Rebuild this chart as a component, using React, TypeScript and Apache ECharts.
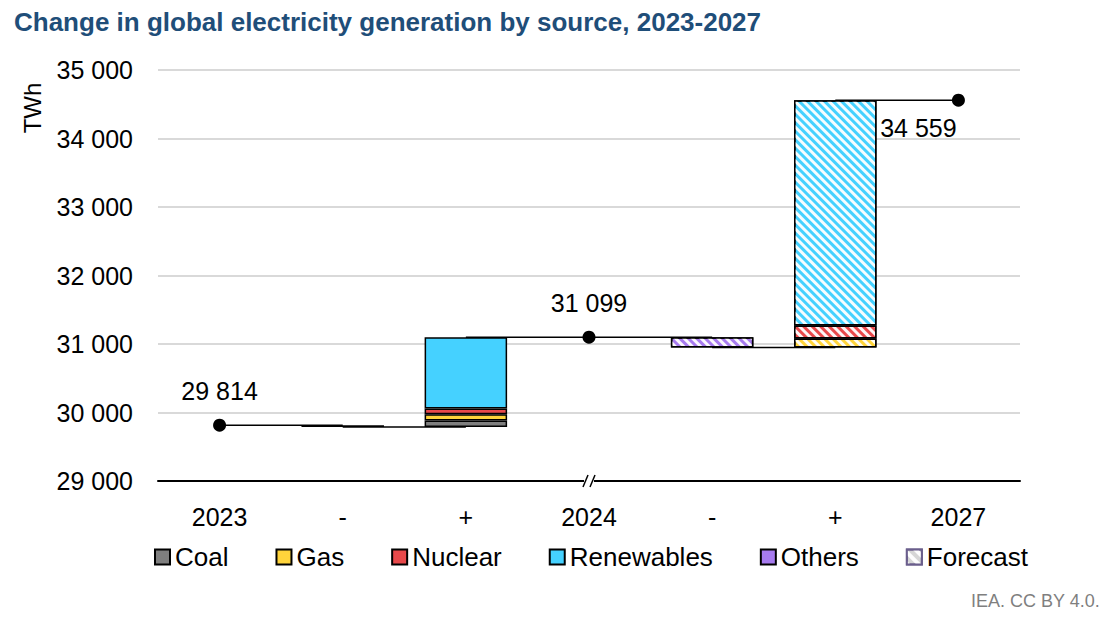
import React, { useEffect, useRef } from "react";
import * as echarts from "echarts";

const categories = ["2023", "-", "+", "2024", "- ", "+ ", "2027"];
const catLabels = ["2023", "-", "+", "2024", "-", "+", "2027"];
// invisible base of each floating bar
const baseValues = [null, 29789, 29789, null, 30949, 30949, null];
const coalValues = [null, null, 95, null, null, null, null];
const gasValues = [null, null, 90, null, null, 130, null];
const nuclearValues = [null, null, 85, null, null, 190, null];
const renewablesValues = [null, null, 1040, null, null, 3290, null];
const othersValues = [null, 25, null, null, 150, null, null];
const forecastIdx = [4, 5];
const totalPoints: [number, number][] = [
  [0, 29814],
  [3, 31099],
  [6, 34559],
];
const connectors: [number, number, number][] = [
  [0, 1, 29814],
  [1, 2, 29789],
  [2, 4, 31099],
  [4, 5, 30949],
  [5, 6, 34559],
];

const COLORS = {
  Coal: "#7f7f7f",
  Gas: "#ffd43b",
  Nuclear: "#e8494b",
  Renewables: "#45d1ff",
  Others: "#a77bef",
};

const fmt = (v: number) => String(v).replace(/\B(?=(\d{3})+(?!\d))/g, " ");

const decal = {
  symbol: "rect",
  symbolSize: 1,
  color: "rgba(255,255,255,0.95)",
  dashArrayX: [1, 0],
  dashArrayY: [3, 3],
  rotation: Math.PI / 4,
};

const FONT = "Liberation Sans, Arial, sans-serif";

function mkData(vals: (number | null)[]) {
  return vals.map((v, i) =>
    v == null
      ? "-"
      : forecastIdx.includes(i)
      ? { value: v, itemStyle: { decal } }
      : v
  );
}

export default function App() {
  const ref = useRef<HTMLDivElement>(null);
  useEffect(() => {
    if (!ref.current) return;
    const chart = echarts.init(ref.current, null, { renderer: "svg" });
    const barCommon = {
      type: "bar",
      stack: "w",
      barCategoryGap: "33%",
      itemStyle: { borderColor: "#000", borderWidth: 1.5 },
      z: 3,
    };
    const sources = ["Coal", "Gas", "Nuclear", "Renewables", "Others"] as const;
    const srcVals: Record<string, (number | null)[]> = {
      Coal: coalValues,
      Gas: gasValues,
      Nuclear: nuclearValues,
      Renewables: renewablesValues,
      Others: othersValues,
    };
    const series: any[] = [
      {
        type: "bar",
        stack: "w",
        name: "base",
        barCategoryGap: "33%",
        itemStyle: { color: "transparent", borderWidth: 0 },
        data: baseValues.map((v) => (v == null ? "-" : v)),
        silent: true,
      },
      ...sources.map((s) => ({
        ...barCommon,
        name: s,
        itemStyle: { ...barCommon.itemStyle, color: COLORS[s] },
        data: mkData(srcVals[s]),
      })),
      {
        type: "bar",
        name: "Forecast",
        stack: "w",
        barCategoryGap: "33%",
        data: [],
        itemStyle: {
          color: "#d6d6d6",
          borderColor: "#6a5e8c",
          borderWidth: 1.5,
          decal: { ...decal, dashArrayY: [4, 4] },
        },
      },
      ...connectors.map(([a, b, v]) => ({
        type: "line",
        symbol: "none",
        data: [
          [a, v],
          [b, v],
        ],
        lineStyle: { color: "#000", width: 1.5 },
        z: 2,
        silent: true,
      })),
      {
        type: "scatter",
        symbolSize: 13,
        itemStyle: { color: "#000", opacity: 1 },
        z: 5,
        data: totalPoints.map((p, i) => ({
          value: p,
          label: {
            show: true,
            formatter: fmt(p[1]),
            position: i === 2 ? "inside" : "top",
            offset: i === 2 ? [-40, 28] : [0, -10],
            color: "#000",
            fontSize: 25,
            fontFamily: FONT,
          },
        })),
      },
    ];

    const baseGraphic: any[] = [
      {
        type: "text",
        x: 32,
        y: 108,
        rotation: Math.PI / 2,
        style: {
          text: "TWh",
          fontSize: 24,
          fontFamily: FONT,
          fill: "#000",
          align: "center",
          verticalAlign: "middle",
        },
      },
      {
        type: "text",
        right: 20,
        top: 592,
        style: {
          text: "IEA. CC BY 4.0.",
          fontSize: 18,
          fontFamily: FONT,
          fill: "#7f7f7f",
        },
      },
    ];

    chart.setOption({
      animation: false,
      title: {
        text: "Change in global electricity generation by source, 2023-2027",
        left: 9,
        top: 4,
        textStyle: {
          color: "#1f4e79",
          fontSize: 26,
          fontWeight: "bold",
          fontFamily: FONT,
        },
      },
      grid: { left: 158, right: 100, top: 70, bottom: 150, containLabel: false },
      legend: {
        data: ["Coal", "Gas", "Nuclear", "Renewables", "Others", "Forecast"],
        icon: "rect",
        left: 149,
        top: 539,
        itemWidth: 15,
        itemHeight: 15,
        itemGap: 47,
        textStyle: { fontSize: 26, fontFamily: FONT, color: "#000", padding: [0, 0, 0, 0] },
      },
      xAxis: {
        type: "category",
        data: categories,
        axisLine: { lineStyle: { color: "#000", width: 2 } },
        axisTick: { show: false },
        axisLabel: {
          fontSize: 25,
          fontFamily: FONT,
          color: "#000",
          margin: 23,
          interval: 0,
          formatter: (_: string, idx: number) => catLabels[idx],
        },
      },
      yAxis: {
        type: "value",
        min: 29000,
        max: 35000,
        interval: 1000,
        axisLine: { show: false },
        axisTick: { show: false },
        axisLabel: {
          fontSize: 25,
          fontFamily: FONT,
          color: "#000",
          margin: 25,
          formatter: (v: number) => fmt(v),
        },
        splitLine: { lineStyle: { color: "#d9d9d9", width: 2 } },
      },
      graphic: baseGraphic,
      series,
    });

    const p = chart.convertToPixel({ xAxisIndex: 0, yAxisIndex: 0 }, [3, 29000]) as number[];
    if (p) {
      const [bx, by] = p;
      chart.setOption({
        graphic: [
          ...baseGraphic,
          {
            type: "rect",
            shape: { x: bx - 5, y: by - 3, width: 10, height: 6 },
            style: { fill: "#fff" },
            z: 10,
          },
          {
            type: "line",
            shape: { x1: bx - 6, y1: by + 6, x2: bx - 1, y2: by - 6 },
            style: { stroke: "#000", lineWidth: 1.5 },
            z: 11,
          },
          {
            type: "line",
            shape: { x1: bx + 1, y1: by + 6, x2: bx + 6, y2: by - 6 },
            style: { stroke: "#000", lineWidth: 1.5 },
            z: 11,
          },
        ],
      });
    }

    return () => chart.dispose();
  }, []);
  return (
    <div
      ref={ref}
      style={{ position: "absolute", left: 0, top: 0, width: 1120, height: 631, background: "#fff" }}
    />
  );
}
